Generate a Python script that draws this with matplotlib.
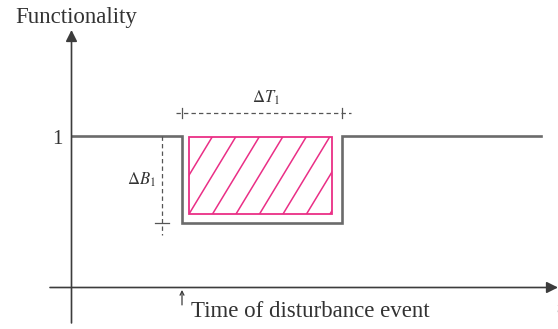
import matplotlib
matplotlib.use("Agg")
import matplotlib.pyplot as plt
from matplotlib.patches import Rectangle

plt.rcParams['font.family'] = ['Liberation Serif', 'DejaVu Serif']
plt.rcParams['mathtext.fontset'] = 'stix'

# schematic resilience curve (time in arbitrary units, functionality 0..1)
time = [0, 11.05, 11.05, 27.05, 27.05, 46.95]
functionality = [1.0, 1.0, 0.429, 0.429, 1.0, 1.0]
t_event = 11.05
t_recover = 27.05
f_full = 1.0
f_low = 0.429

line_col = '#6b6b6b'
axis_col = '#3c3c3c'
pink = '#ea2f86'
dash_col = '#555555'

fig = plt.figure(figsize=(5.58, 3.29), dpi=100)
ax = fig.add_axes([0, 0, 1, 1])
ax.set_xlim(-7.15, 48.65)
ax.set_ylim(-0.274, 1.898)
ax.axis('off')

# axes with arrow heads
ax.annotate('', xy=(0, 1.70), xytext=(0, -0.234),
            arrowprops=dict(arrowstyle='-|>', color=axis_col, lw=1.2,
                            mutation_scale=17, shrinkA=0, shrinkB=0))
ax.annotate('', xy=(48.65, 0), xytext=(-2.15, 0),
            arrowprops=dict(arrowstyle='-|>', color=axis_col, lw=1.2,
                            mutation_scale=17, shrinkA=0, shrinkB=0))

# functionality curve
ax.plot(time, functionality, color=line_col, lw=1.9, solid_joinstyle='miter')

# lost-functionality area (hatched)
rx0 = t_event + 0.7
rx1 = t_recover - 1.03
ry0 = f_low + 0.056
ry1 = f_full - 0.007
rect = Rectangle((rx0, ry0), rx1 - rx0, ry1 - ry0, fill=False,
                 edgecolor=pink, lw=1.3)
ax.add_patch(rect)
slope = 0.109
spacing = 2.35
h = ry1 - ry0
for k in range(-3, 8):
    x0 = rx0 + k * spacing
    ln, = ax.plot([x0, x0 + h / slope], [ry0, ry1], color=pink, lw=1.1)
    ln.set_clip_path(rect)

# delta T annotation
y_dt = 1.152
ax.plot([10.45, 27.95], [y_dt, y_dt], color=dash_col, lw=0.9,
        dashes=(3.5, 2.5))
for tx in [t_event, t_recover]:
    ax.plot([tx, tx], [y_dt - 0.035, y_dt + 0.035], color=dash_col, lw=0.9)
ax.text(19.45, 1.25, r'$\Delta T_1$', ha='center', va='center', fontsize=12,
        color='#333333')

# delta B annotation
x_db = 9.05
ax.plot([x_db, x_db], [f_full, 0.347], color=dash_col, lw=0.9,
        dashes=(3.5, 2.5))
ax.plot([8.35, 9.75], [f_low, f_low], color=dash_col, lw=0.9)
ax.text(8.45, 0.71, r'$\Delta B_1$', ha='right', va='center', fontsize=12,
        color='#333333')

# labels
ax.text(-1.45, 0.98, '1', ha='center', va='center', fontsize=15,
        color='#333333')
ax.text(-5.65, 1.746, 'Functionality', ha='left', va='baseline',
        fontsize=16.5, color='#333333')
ax.annotate('', xy=(t_event, -0.016), xytext=(t_event, -0.115),
            arrowprops=dict(arrowstyle='->', color=axis_col, lw=0.9,
                            mutation_scale=7, shrinkA=0, shrinkB=0))
ax.text(11.95, -0.195, 'Time of disturbance event', ha='left', va='baseline',
        fontsize=16.5, color='#333333')
ax.text(48.5, -0.17, 't', ha='left', va='baseline', fontsize=12,
        style='italic', color='#333333')

fig.savefig('out.png', dpi=100)
